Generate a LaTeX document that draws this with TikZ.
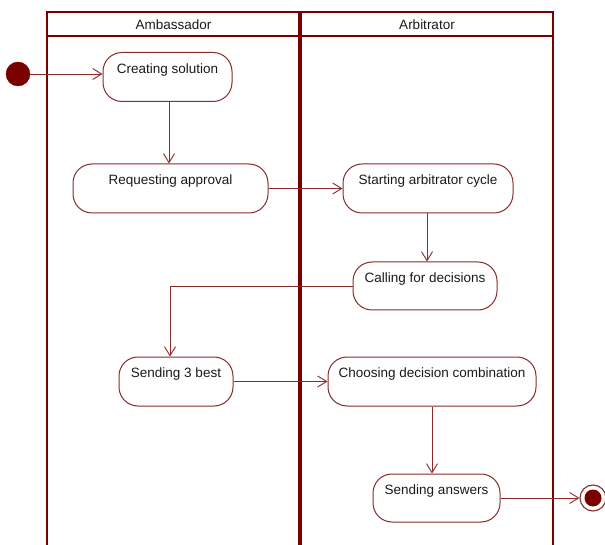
\documentclass[tikz,border=0pt]{standalone}
\usepackage{fontspec}
\setmainfont{Liberation Sans}
\usetikzlibrary{arrows.meta}
\definecolor{dred}{HTML}{7A0000}
\definecolor{bred}{HTML}{8A2A2A}
\definecolor{txt}{HTML}{1A1A1A}
\tikzset{
  act/.style={draw=bred, line width=1pt, rounded corners=19pt, fill=white,
    inner sep=0pt, align=center, text=txt,
    font=\fontsize{13.5}{17}\selectfont},
  flow/.style={draw=bred, line width=0.9pt, -{Straight Barb[length=9pt,width=11pt,line width=0.9pt]}},
  frame/.style={draw=dred, line width=2.6pt},
  lane/.style={text=txt, font=\fontsize{13.5}{16}\selectfont}
}
\begin{document}
\begin{tikzpicture}[x=1pt,y=-1pt]
\useasboundingbox (0,0) rectangle (605,545);
% frame
\draw[frame] (47,545) -- (47,12) -- (553,12) -- (553,545);
\draw[frame] (47,36) -- (553,36);
\draw[draw=dred, line width=4.6pt] (300,12) -- (300,545);
\node[lane] (hamb) at (173.5,24.5) {Ambassador};
\node[lane] (harb) at (427,24.5) {Arbitrator};
% start / end
\node[circle, fill=dred, draw=dred, minimum size=24pt, inner sep=0pt] (start) at (18,74) {};
\node[circle, draw=bred, line width=1.1pt, fill=white, minimum size=26pt, inner sep=0pt] (end) at (593,498) {};
\node[circle, fill=dred, minimum size=17pt, inner sep=0pt] (endin) at (end.center) {};
% activities
\node[act, minimum width=129pt, minimum height=49pt] (cs) at (167.5,77) {Creating solution\\ \mbox{}};
\node[act, minimum width=195pt, minimum height=49pt] (ra) at (170.5,188.5) {Requesting approval\\ \mbox{}};
\node[act, minimum width=170pt, minimum height=49pt] (sac) at (428,188.5) {Starting arbitrator cycle\\ \mbox{}};
\node[act, minimum width=144pt, minimum height=48pt] (cfd) at (425,286) {Calling for decisions\\ \mbox{}};
\node[act, minimum width=114pt, minimum height=49pt] (s3b) at (176,381.5) {Sending 3 best\\ \mbox{}};
\node[act, minimum width=208pt, minimum height=49pt] (cdc) at (432,381.5) {Choosing decision combination\\ \mbox{}};
\node[act, minimum width=127pt, minimum height=48pt] (sa) at (436.5,498) {Sending answers\\ \mbox{}};
% flows
\draw[flow] (start) -- (cs.west |- start);
\draw[flow] ([xshift=1.5pt]cs.south) -- ([xshift=1.5pt]cs.south |- ra.north);
\draw[flow] (ra.east) -- (sac.west);
\draw[flow] ([xshift=-1pt]sac.south) -- ([xshift=-1pt]sac.south |- cfd.north);
\draw[flow] (cfd.west) -| ([xshift=-6pt]s3b.north);
\draw[flow] (s3b.east) -- (cdc.west);
\draw[flow] (cdc.south) -- (cdc.south |- sa.north);
\draw[flow] (sa.east) -- (sa.east -| end.west);
\end{tikzpicture}
\end{document}
